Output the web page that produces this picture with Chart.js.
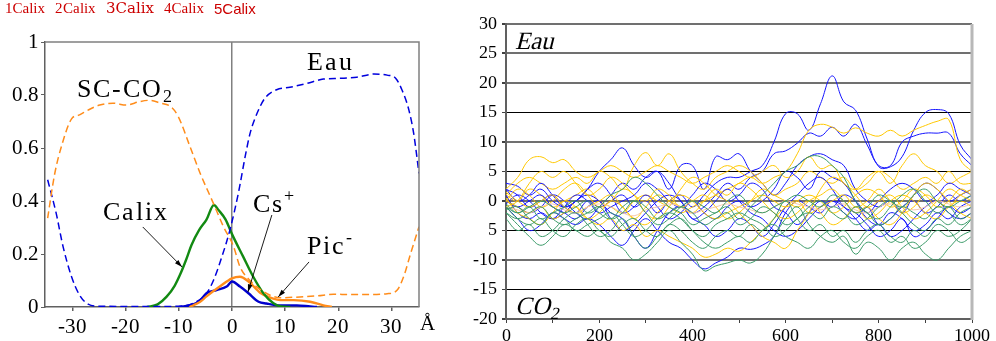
<!DOCTYPE html>
<html>
<head>
<meta charset="utf-8">
<script src="https://cdn.jsdelivr.net/npm/chart.js@4.4.0/dist/chart.umd.min.js"></script>
<style>
@font-face { font-family: 'LocSerif'; src: local('Liberation Serif'), local('LiberationSerif'); }
body{margin:0;background:#fff;width:996px;height:341px;position:relative;overflow:hidden;}
#left{position:absolute;left:0;top:0;}
#right{position:absolute;left:440px;top:0;}
</style>
</head>
<body>
<canvas id="left" width="440" height="341"></canvas>
<canvas id="right" width="556" height="341"></canvas>
<script>
// ---- left panel : density profiles ----
const leftXTicks = [-30, -20, -10, 0, 10, 20, 30];
const leftYTicks = [0, 0.2, 0.4, 0.6, 0.8, 1];

const scco2X = [-34.7,-33.4,-31.9,-30.2,-28.7,-27.1,-24.9,-22.4,-19.9,-17.4,-15.5,-13.6,-11.4,-10.1,-7.9,-6.0,-3.5,-1.6,0.3,1.5,3.4,5.9,9.1,12.8,16,19.1,22.3,25.4,29.2,31.1,32.3,33.6,35.2];
const scco2Y = [0.335,0.5,0.62,0.71,0.725,0.743,0.762,0.769,0.762,0.775,0.78,0.77,0.754,0.718,0.605,0.505,0.391,0.303,0.228,0.152,0.1,0.058,0.035,0.038,0.042,0.048,0.047,0.047,0.05,0.064,0.114,0.2,0.303];

const eauX = [-34.7,-33.1,-31.8,-30.2,-28.7,-27.1,-24.9,-15,-9.8,-7.3,-4.8,-3.5,-1.9,-0.4,1.2,2.5,3.4,4.7,6.2,8.4,10.9,14.1,17.2,20.4,23.5,26.7,29.2,30.8,32,33.3,34.2,35.2];
const eauY = [0.48,0.354,0.228,0.114,0.045,0.011,0.003,0.002,0.003,0.014,0.052,0.1,0.19,0.29,0.43,0.57,0.655,0.73,0.788,0.82,0.829,0.844,0.86,0.863,0.867,0.879,0.875,0.863,0.819,0.743,0.655,0.504];

const calixX = [-16,-14,-12.3,-10.8,-9.6,-8.6,-7.6,-6.2,-4.8,-3.4,-2.5,-1.2,0,2.1,4,5.9,7.8,9.2,11];
const calixY = [0,0.01,0.039,0.08,0.13,0.18,0.235,0.29,0.33,0.385,0.365,0.33,0.275,0.19,0.114,0.052,0.014,0.002,0];

const csX = [-10,-7.3,-6,-4.8,-2.9,-1,0,1.5,3.1,5,6.5,9.1,12.2,14.7,16];
const csY = [0,0.01,0.025,0.052,0.064,0.077,0.096,0.077,0.052,0.02,0.013,0.006,0.006,0.002,0];

const picX = [-8,-6,-4.8,-2.3,0,1.5,3.1,5.3,7.2,9.1,11.6,14.7,17.2,18.8];
const picY = [0,0.02,0.04,0.077,0.108,0.114,0.096,0.054,0.035,0.026,0.026,0.02,0.006,0];

// ---- right panel : time series ----
const timeSteps = [0,25,50,75,100,125,150,175,200,225,250,275,300,325,350,375,400,425,450,475,500,525,550,575,600,625,650,675,700,725,750,775,800,825,850,875,900,925,950,975,1000];
const rightXTicks = [0, 100, 200, 300, 400, 500, 600, 700, 800, 900, 1000];
const rightYTicks = [-20, -15, -10, -5, 0, 5, 10, 15, 20, 25, 30];

const green1 = [-2,-4,-6,-7.5,-6,-4,-5,-6,-5,-7,-8,-10,-9,-7,-5,-7,-9,-11.8,-11,-10.5,-10,-10.5,-9,-6,-3,-1,-4,-6,-7,-6,-9,-7,-8,-10,-8,-7,-9,-10,-8,-6,-5];
const green2 = [-1,-3,-4,-3,-5,-6,-4,-3,-5,-6,-4,-3,-5,-6,-4,-5,-7,-8,-6,-5,-6,-4,-5,-3,0,-3,-5,-4,-6,-5,-7,-5,-4,-6,-7,-5,-6,-4,-5,-7,-6];
const green3 = [-0.5,-2,-1,-3,-2,-1,0,-2,-1,1,2,4,3,1,-1,-2,-4,-3,-2,-1,-3,-1,1,3,5,6,7.5,7.5,6,4,0,-2,-3,-1,1,2,0,-2,-1,-3,-2];
const green4 = [-2,-3,-2,-1,-3,-4,-3,-2,-1,-3,-2,0,-1,-3,-2,-1,-2,-4,-3,-2,-4,-3,-1,-2,-4,-3,-1,0,-2,-3,-1,-2,-4,-3,-1,-2,-3,-1,-2,-4,-3];
const green5 = [-1.5,-1,-3,-4,-2,-3,-5,-4,-3,-2,-4,-6,-5,-3,-2,-3,-5,-6,-4,-3,-2,-3,-4,-6,-5,-3,-2,-3,-1,-2,-4,-3,-1,0,-2,-4,-5,-3,-4,-2,-1];
const green6 = [-1,-2,-1,0,-1,-2,-1,0,-2,-3,-1,0,-2,-4,-3,-1,0,-1,-2,0,1,-1,-2,-1,0,1,0,-1,1,0,-2,-1,1,0,-1,1,2,0,-1,0,1];
const green7 = [-3,-5,-4,-6,-5,-3,-2,-4,-6,-5,-3,-6,-8,-6,-4,-3,-5,-7,-8,-7,-6,-7,-5,-4,-6,-7,-8,-6,-5,-7,-8,-6,-5,-7,-6,-8,-7,-5,-6,-5,-3];
const salmon1 = [-1,-1.5,-2,-1,-0.5,-1.5,-2,-1,-0.5,-1,-2,-2.5,-1.5,-1,-0.5,-1,-2,-1.5,-1,-0.5,-1,-1.5,-2,-1,0,-0.5,-1,-1.5,-1,-0.5,-1.5,-2,-1,-0.5,-1,-1.5,-1,0,-0.5,-1,-0.5];
const blue1 = [2,1,-1,0,1,-1,-2,0,-1,0,1,-1,0,-2,0,1,-1,1,3,4,4,5,6,10,14.8,14.8,12,16.5,21.2,16.8,15.4,10.5,5.8,5.8,7.5,12,15,15.5,14.8,9.5,7];
const blue2 = [3,2.5,1,2,0,-1,0,2,5,7,9,6,4,5,3,0,-2,-1,1,3,2,4,5,8,8.5,9.8,11.5,11,12.5,11,13,9.5,6,6,10,11,11.5,11.5,11.5,8,6];
const blue3 = [0,-1,-2,-1,1,0,-2,-3,-1,1,3,2,4,5,2,6,6,2,7.5,7,8,5,3,1,3,6,7.5,8,7,6,2,0,-1,0,-2,1,3,2,0,1,2];
const blue4 = [-1,-3,-5,-4,-2,-3,-4,-3,-4,-6,-7.5,-5,-3,-5,-7,-8,-10,-11.5,-10.5,-9.5,-8,-8.2,-7.5,-6,-2,0,-1,-2,0,-2,-3,-1,-4,-3,-1,0,-2,-1,1,0,1];
const blue5 = [2,0,1,3,1,-1,0,2,3,1,-2,-1,1,-1,-3,-2,0,-2,-3,-1,0,-1,0,2,5,4,2,5,4,3,0,-3,-4,-2,-3,-5,-4,-2,-3,-1,0];
const blue6 = [-0.5,1,0,-2,-3,-2,0,1,0,-2,-3,-6,-8,-5,-2,-1,-3,-4,-6,-5,-3,-4,-6,-4,-1,1,3,4,2,-1,-2,-4,-6,-5,-3,-6,-5,-3,-1,-2,-1];
const blue7 = [1,-2,-3,-2,-3,-1,1,0,-2,-1,0,1,3,2,0,-1,1,3,2,0,1,3,2,-1,-2,-4,-2,0,-1,1,0,-2,0,2,3,2,0,1,3,2,1];
const blue8 = [0,-1,0,1,-1,-2,-3,-1,0,-3,-5,-4,-2,0,1,0,-3,-2,0,2,0,-2,-3,-5,-6,-5,-3,-1,0,-1,-3,-5,-4,-6,-5,-3,-1,0,-2,-3,-2];
const yellow1 = [1,0,2,1,-1,0,1,2,0,-1,-2,0,1,0,-1,-2,-1,0,1,2,3,4,3,4,5,8,12,13,12.5,11.5,12.4,11.5,11,12,11,12,12.8,13.5,13.8,7,5];
const yellow2 = [2,4,7,7.5,6.5,7,5,4,5,6,5,4,5,6,5,4,3,4,5,6,5,4,5,6,4,5,7.5,5.5,6,3,2,4,5,3,6,8,6,5,3,4,5];
const yellow3 = [1,3,4,3,2,3,4,3,5,4,2,6,8.2,6,8,5,3,2,4,5,6,5,3,1,2,3,5,4,3,4,2,3,5,4,2,3,4,3,5,3,3];
const yellow4 = [0,-1,-2,-1,-3,-2,-1,-3,-4,-3,-5,-4,-6,-5,-6,-7,-8,-9.5,-9,-8,-8.5,-7,-5,-3,-1,0,-2,-1,0,1,-1,0,2,0,-2,-1,1,0,-1,1,2];
const yellow5 = [1.5,0,-1,0,1,-1,-2,-1,0,1,-1,-3,-4,-2,0,1,0,-2,-3,-2,-1,0,1,0,-1,0,1,0,-2,-1,1,2,1,-1,0,2,1,-1,0,2,1];
const yellow6 = [0,2,1,-1,0,2,3,1,-1,0,2,1,-2,-3,-1,2,4,3,1,0,-2,-4,-6,-7,-8,-5,-2,2,4,3,1,-1,0,1,-1,-3,-2,0,2,1,0];
const yellow7 = [-1,0,3,5,4,5,3,1,2,4,3,1,0,2,1,-1,0,1,-1,-3,-2,0,2,1,0,-1,0,-2,-4,-3,-1,-3,-2,0,1,0,-2,-3,-1,0,-1];
const yellow8 = [0.5,-2,-3,-4,-2,0,-1,-3,-2,0,-1,-3,-1,1,0,-1,-2,0,2,1,3,2,0,-2,-3,-2,0,1,2,0,-2,-1,-3,-4,-2,1,3,2,0,-2,-3];

const GREEN = '#3a9a68', BLUE = '#1414ff', YELLOW = '#ffc800', SALMON = '#f6c7a8';
const SERIF = "'LocSerif', 'Liberation Serif', 'DejaVu Serif', serif";

Chart.defaults.font.family = SERIF;
Chart.defaults.color = '#000';

function pts(xs, ys){
    return xs.map(function(x, i){ return {x: x, y: ys[i]}; });
}

function drawNote(ctx, n, px, py, size, italic){
    ctx.save();
    ctx.fillStyle = '#000';
    ctx.textBaseline = 'middle';
    ctx.textAlign = 'left';
    ctx.font = (italic ? 'italic ' : '') + size + 'px ' + SERIF;
    let w = 0;
    const gap = italic ? 0 : 2;
    for(const ch of n.text){
        ctx.fillText(ch, px + w, py);
        w += ctx.measureText(ch).width + gap;
    }
    ctx.font = (italic ? 'italic ' : '') + Math.round(size * 0.68) + 'px ' + SERIF;
    if(n.sub) ctx.fillText(n.sub, px + w, py + size * 0.3);
    if(n.sup) ctx.fillText(n.sup, px + w, py - size * 0.35);
    ctx.restore();
}

// temporary font probe in the empty top strip
function probe(ctx, x0, list){
    ctx.save();
    ctx.fillStyle = '#c00';
    ctx.textBaseline = 'top';
    let x = x0;
    list.forEach(function(f, i){
        ctx.font = '15px ' + f;
        const s = (i + 1) + 'Calix';
        ctx.fillText(s, x, 2);
        x += ctx.measureText(s).width + 10;
    });
    ctx.restore();
}

const leftNotes = [
    {text: 'SC-CO', sub: '2', x: -29.2, y: 0.82},
    {text: 'Eau', x: 14.2, y: 0.92},
    {text: 'Calix', x: -24.3, y: 0.355},
    {text: 'Cs', sup: '+', x: 4.0, y: 0.385},
    {text: 'Pic', sup: '-', x: 14.2, y: 0.226}
];
const leftArrows = [
    {from: [-16.8, 0.302], to: [-9.4, 0.151]},
    {from: [7.5, 0.347], to: [3.0, 0.057]},
    {from: [14.5, 0.17], to: [8.7, 0.038]}
];

const leftDecor = {
    id: 'leftDecor',
    afterDatasetsDraw(chart){
        const ctx = chart.ctx, a = chart.chartArea;
        const sx = chart.scales.x, sy = chart.scales.y;
        ctx.save();
        ctx.strokeStyle = '#808080';
        ctx.lineWidth = 1.5;
        ctx.beginPath();
        ctx.moveTo(a.left, a.top); ctx.lineTo(a.right, a.top); ctx.lineTo(a.right, a.bottom);
        ctx.stroke();
        ctx.strokeStyle = '#000'; ctx.fillStyle = '#000'; ctx.lineWidth = 0.9;
        leftArrows.forEach(function(ar){
            const x1 = sx.getPixelForValue(ar.from[0]), y1 = sy.getPixelForValue(ar.from[1]);
            const x2 = sx.getPixelForValue(ar.to[0]), y2 = sy.getPixelForValue(ar.to[1]);
            const ang = Math.atan2(y2 - y1, x2 - x1);
            ctx.beginPath(); ctx.moveTo(x1, y1); ctx.lineTo(x2, y2); ctx.stroke();
            ctx.beginPath();
            ctx.moveTo(x2, y2);
            ctx.lineTo(x2 - 8 * Math.cos(ang - 0.3), y2 - 8 * Math.sin(ang - 0.3));
            ctx.lineTo(x2 - 8 * Math.cos(ang + 0.3), y2 - 8 * Math.sin(ang + 0.3));
            ctx.closePath(); ctx.fill();
        });
        ctx.restore();
        leftNotes.forEach(function(n){
            drawNote(ctx, n, sx.getPixelForValue(n.x), sy.getPixelForValue(n.y), 26, false);
        });
        ctx.save();
        ctx.font = '21px ' + SERIF;
        ctx.fillStyle = '#000';
        ctx.textBaseline = 'top';
        ctx.fillText('\u00C5', a.right + 1, a.bottom + 7);
        ctx.restore();
        probe(ctx, 5, ["'Liberation Serif'", "'LocSerif'", "'DejaVu Serif'", "serif", "'Liberation Sans'"]);
    }
};

const rightSeries = [
    {data: green1, color: GREEN}, {data: green2, color: GREEN}, {data: green3, color: GREEN},
    {data: green4, color: GREEN}, {data: green5, color: GREEN}, {data: green6, color: GREEN},
    {data: green7, color: GREEN}, {data: salmon1, color: SALMON},
    {data: yellow4, color: YELLOW}, {data: yellow5, color: YELLOW}, {data: yellow6, color: YELLOW},
    {data: yellow7, color: YELLOW}, {data: yellow8, color: YELLOW},
    {data: blue4, color: BLUE}, {data: blue5, color: BLUE}, {data: blue6, color: BLUE},
    {data: blue7, color: BLUE}, {data: blue8, color: BLUE},
    {data: yellow1, color: YELLOW}, {data: yellow2, color: YELLOW}, {data: yellow3, color: YELLOW},
    {data: blue1, color: BLUE}, {data: blue2, color: BLUE}, {data: blue3, color: BLUE}
];

const rightNotes = [
    {text: 'Eau', x: 19, y: 26.8},
    {text: 'CO', sub: '2', x: 19, y: -18}
];

const rightDecor = {
    id: 'rightDecor',
    afterDatasetsDraw(chart){
        const ctx = chart.ctx, a = chart.chartArea;
        const sx = chart.scales.x, sy = chart.scales.y;
        ctx.save();
        ctx.strokeStyle = '#b8b8b8';
        ctx.lineWidth = 3;
        ctx.beginPath(); ctx.moveTo(a.right, a.top); ctx.lineTo(a.right, a.bottom + 1); ctx.stroke();
        ctx.restore();
        rightNotes.forEach(function(n){
            drawNote(ctx, n, sx.getPixelForValue(n.x), sy.getPixelForValue(n.y), 25, true);
        });
    }
};

function buildCharts(){
new Chart(document.getElementById('left'), {
    type: 'line',
    data: {
        datasets: [
            {data: pts(scco2X, scco2Y), borderColor: '#ff8c1a', borderWidth: 1.5, borderDash: [7, 4]},
            {data: pts(eauX, eauY), borderColor: '#0000dd', borderWidth: 1.5, borderDash: [7, 4]},
            {data: pts(calixX, calixY), borderColor: '#128a12', borderWidth: 2.4},
            {data: pts(picX, picY), borderColor: '#ff8c1a', borderWidth: 2.4},
            {data: pts(csX, csY), borderColor: '#0000cc', borderWidth: 2.4}
        ]
    },
    options: {
        responsive: false, animation: false,
        elements: {point: {radius: 0}, line: {tension: 0.4, cubicInterpolationMode: 'monotone'}},
        layout: {padding: {top: 42, right: 21, left: 0, bottom: 0}},
        plugins: {legend: {display: false}, tooltip: {enabled: false}},
        scales: {
            x: {
                type: 'linear', min: -35.2, max: 35.2,
                afterBuildTicks: function(s){ s.ticks = leftXTicks.map(function(v){ return {value: v}; }); },
                afterFit: function(s){ s.height = 34; },
                ticks: {font: {size: 21}, padding: 4, maxRotation: 0},
                grid: {color: function(c){ return c.tick && c.tick.value === 0 ? '#808080' : 'rgba(0,0,0,0)'; }, lineWidth: 1.5, tickColor: '#606060', tickLength: 4},
                border: {color: '#606060', width: 1.5}
            },
            y: {
                min: 0, max: 1,
                afterBuildTicks: function(s){ s.ticks = leftYTicks.map(function(v){ return {value: v}; }); },
                afterFit: function(s){ s.width = 45; },
                ticks: {font: {size: 21}, padding: 2, callback: function(v){ return String(v); }},
                grid: {drawOnChartArea: false, tickLength: 4, tickColor: '#606060'},
                border: {color: '#606060', width: 1.5}
            }
        }
    },
    plugins: [leftDecor]
});

new Chart(document.getElementById('right'), {
    type: 'line',
    data: {
        datasets: rightSeries.map(function(s){
            return {data: pts(timeSteps, s.data), borderColor: s.color, borderWidth: 1};
        })
    },
    options: {
        responsive: false, animation: false,
        elements: {point: {radius: 0}, line: {tension: 0.4}},
        layout: {padding: {top: 24, right: 24, left: 0, bottom: 0}},
        plugins: {legend: {display: false}, tooltip: {enabled: false}},
        scales: {
            x: {
                type: 'linear', min: 0, max: 1000,
                afterBuildTicks: function(s){ s.ticks = rightXTicks.map(function(v){ return {value: v}; }); },
                afterFit: function(s){ s.height = 22; },
                ticks: {font: {size: 18}, padding: 2, maxRotation: 0, autoSkip: false,
                    callback: function(v){ return v % 200 === 0 ? String(v) : ''; }},
                grid: {drawOnChartArea: false, tickLength: 4, tickColor: '#404040'},
                border: {color: '#606060', width: 2}
            },
            y: {
                min: -20, max: 30,
                afterBuildTicks: function(s){ s.ticks = rightYTicks.map(function(v){ return {value: v}; }); },
                afterFit: function(s){ s.width = 66; },
                ticks: {font: {size: 18}, padding: 5,
                    callback: function(v){ return v === -5 ? '5' : String(v); }},
                grid: {
                    color: function(c){ return [15, 5, -5, -15].indexOf(c.tick.value) >= 0 ? '#000' : '#707070'; },
                    lineWidth: function(c){ return [15, 5, -5, -15].indexOf(c.tick.value) >= 0 ? 1 : 2; },
                    tickLength: 4, tickColor: '#404040'
                },
                border: {color: '#606060', width: 2}
            }
        }
    },
    plugins: [rightDecor]
});
}

document.fonts.load("20px 'LocSerif'").then(buildCharts, buildCharts);
</script>
</body>
</html>
